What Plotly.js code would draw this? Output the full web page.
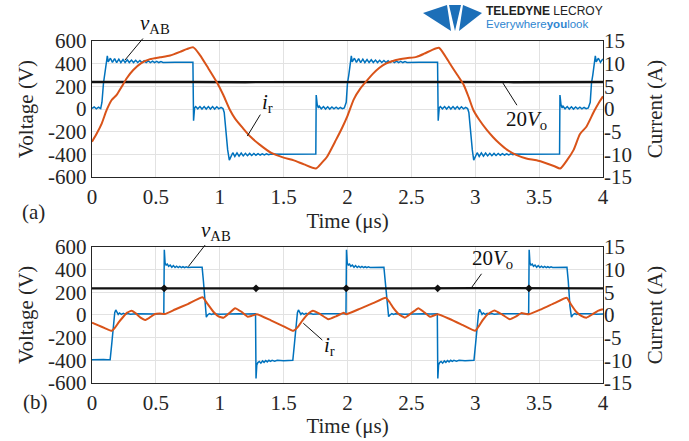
<!DOCTYPE html>
<html>
<head>
<meta charset="utf-8">
<script src="https://cdn.plot.ly/plotly-3.0.1.min.js"></script>
<style>html,body{margin:0;padding:0;background:#fff;}#chart{width:689px;height:441px;}</style>
</head>
<body>
<div id="chart"></div>
<script>
// ---------- (a) top panel ----------
// v_AB (V): [time µs, voltage]
const vabA = [
 [0,5],[0.017,18],[0.034,2],[0.051,16],[0.068,4],[0.078,60],[0.09,230],[0.1,300],[0.112,380],[0.12,468],
 [0.127,415],[0.144,448],[0.160,412],[0.177,445],[0.193,410],[0.210,440],[0.226,410],[0.243,437],[0.259,410],
 [0.276,435],[0.292,410],[0.309,432],[0.325,410],[0.342,430],[0.358,410],[0.375,428],[0.391,410],[0.408,426],
 [0.424,410],[0.441,424],[0.457,410],[0.474,422],[0.490,410],[0.507,420],[0.523,410],[0.540,418],[0.556,411],
 [0.60,414],[0.65,412],[0.70,413],[0.75,411],[0.79,412],[0.795,-103],[0.803,10],
 [0.812,22],[0.828,2],[0.845,22],[0.861,0],[0.878,22],[0.894,0],[0.911,22],[0.927,0],[0.944,22],[0.960,0],
 [0.977,20],[0.993,2],[1.010,15],[1.025,5],[1.035,-30],[1.05,-250],[1.062,-360],[1.075,-450],
 [1.085,-420],[1.102,-385],[1.118,-418],[1.135,-387],[1.151,-415],[1.168,-388],[1.184,-413],[1.201,-390],
 [1.217,-411],[1.234,-391],[1.250,-409],[1.267,-392],[1.283,-407],[1.300,-393],[1.316,-405],[1.333,-394],
 [1.349,-404],[1.366,-395],[1.382,-402],[1.40,-397],[1.50,-398],[1.60,-396],[1.70,-397],[1.752,-396],
 [1.755,124],[1.763,40],[1.772,10],[1.779,25],[1.795,2],[1.812,22],[1.828,0],[1.845,20],[1.861,0],[1.878,18],
 [1.894,2],[1.911,16],[1.927,2],[1.944,14],[1.960,4],[1.975,10],[1.99,60],[2.00,230],[2.01,300],[2.022,380],
 [2.03,468],[2.037,415],[2.054,448],[2.070,412],[2.087,445],[2.103,410],[2.120,440],[2.136,410],[2.153,437],
 [2.169,410],[2.186,435],[2.202,410],[2.219,432],[2.235,410],[2.252,430],[2.268,410],[2.285,428],[2.301,410],
 [2.318,426],[2.334,410],[2.351,424],[2.367,410],[2.384,422],[2.400,410],[2.417,420],[2.433,410],[2.450,418],
 [2.466,411],[2.51,414],[2.56,412],[2.61,413],[2.66,411],[2.705,412],[2.71,-103],[2.718,10],
 [2.727,22],[2.743,2],[2.760,22],[2.776,0],[2.793,22],[2.809,0],[2.826,22],[2.842,0],[2.859,22],[2.875,0],
 [2.892,20],[2.908,2],[2.925,15],[2.940,5],[2.950,-30],[2.965,-250],[2.977,-360],[2.988,-450],
 [2.998,-420],[3.015,-385],[3.031,-418],[3.048,-387],[3.064,-415],[3.081,-388],[3.097,-413],[3.114,-390],
 [3.130,-411],[3.147,-391],[3.163,-409],[3.180,-392],[3.196,-407],[3.213,-393],[3.229,-405],[3.246,-394],
 [3.262,-404],[3.279,-395],[3.295,-402],[3.31,-397],[3.41,-398],[3.51,-396],[3.61,-397],[3.66,-396],
 [3.663,124],[3.671,40],[3.68,10],[3.687,25],[3.703,2],[3.720,22],[3.736,0],[3.753,20],[3.769,0],[3.786,18],
 [3.802,2],[3.819,16],[3.835,2],[3.852,14],[3.868,4],[3.885,10],[3.90,60],[3.91,230],[3.92,300],[3.932,380],
 [3.94,470],[3.947,415],[3.964,448],[3.980,412],[3.997,440],[4.0,430]
];
// i_r (A)
const irA = [
 [0,-7.2],[0.037,-5.4],[0.076,-3.2],[0.115,-0.2],[0.154,2.0],[0.193,3.1],[0.232,4.9],[0.272,6.8],[0.323,8.6],
 [0.388,10.2],[0.454,11.0],[0.532,11.4],[0.611,11.8],[0.689,12.6],[0.741,13.2],[0.793,13.6],[0.845,11.9],
 [0.91,9.0],[0.975,6.0],[1.028,3.1],[1.08,-0.2],[1.12,-2.1],[1.184,-4.3],[1.237,-6.0],[1.315,-7.9],[1.40,-9.6],
 [1.50,-10.7],[1.58,-11.3],[1.66,-12.2],[1.753,-13.1],[1.80,-11.8],[1.84,-10.5],[1.91,-6.8],[1.96,-4.0],
 [2.0,-1.5],[2.05,2.2],[2.1,4.5],[2.15,6.2],[2.2,7.8],[2.25,9.1],[2.3,10.0],[2.38,10.8],[2.46,11.2],[2.54,11.5],
 [2.6,12.2],[2.66,13.0],[2.715,13.5],[2.76,11.9],[2.80,10.1],[2.86,7.5],[2.91,5.3],[2.95,2.5],[2.985,-0.2],
 [3.03,-2.3],[3.09,-4.6],[3.14,-6.2],[3.19,-7.6],[3.25,-9.0],[3.32,-10.1],[3.4,-10.9],[3.48,-11.3],[3.56,-12.0],
 [3.62,-12.6],[3.665,-13.1],[3.72,-11.2],[3.77,-9.0],[3.82,-5.5],[3.87,-3.9],[3.93,-0.5],[3.97,1.5],[4.0,2.8]
];
// 20Vo (V)
const voA = [[0,238],[0.3,236],[0.8,239],[1.2,237],[1.8,239],[2.3,237],[2.8,239],[3.3,237],[3.8,238],[4,238]];

// ---------- (b) bottom panel ----------
const vabB = [
 [0,-395],[0.03,-393],[0.06,-397],[0.09,-393],[0.12,-396],[0.142,-395],[0.155,-250],[0.168,-60],[0.178,20],
 [0.186,44],[0.195,25],[0.205,5],[0.215,18],[0.23,5],[0.245,14],[0.26,6],[0.28,12],[0.3,7],[0.35,10],[0.4,8],
 [0.45,10],[0.5,8],[0.562,10],[0.566,575],[0.572,460],[0.58,440],[0.59,448],[0.6,428],[0.612,440],[0.625,420],
 [0.637,435],[0.65,418],[0.662,430],[0.675,418],[0.687,428],[0.7,417],[0.712,425],[0.725,417],[0.737,424],
 [0.75,418],[0.78,420],[0.82,419],[0.862,420],[0.872,300],[0.885,80],[0.895,-20],[0.905,0],[0.92,12],[0.935,4],
 [0.95,10],[1.0,7],[1.05,10],[1.1,8],[1.15,10],[1.2,8],[1.28,10],[1.284,-560],[1.29,-440],[1.298,-420],
 [1.31,-410],[1.322,-425],[1.335,-405],[1.347,-418],[1.36,-402],[1.372,-414],[1.385,-400],[1.397,-410],
 [1.41,-400],[1.43,-407],[1.45,-400],[1.5,-403],[1.55,-400],[1.572,-400],[1.585,-250],[1.598,-60],[1.608,20],
 [1.616,44],[1.625,25],[1.635,5],[1.645,18],[1.66,5],[1.675,14],[1.69,6],[1.71,12],[1.73,7],[1.8,10],[1.9,8],
 [1.988,10],[1.992,575],[1.998,460],[2.006,440],[2.016,448],[2.026,428],[2.038,440],[2.051,420],[2.063,435],
 [2.076,418],[2.088,430],[2.101,418],[2.113,428],[2.126,417],[2.138,425],[2.151,417],[2.163,424],[2.176,418],
 [2.21,420],[2.25,419],[2.285,420],[2.295,300],[2.31,80],[2.322,-15],[2.332,0],[2.347,12],[2.36,4],[2.375,10],
 [2.45,7],[2.5,10],[2.55,8],[2.6,10],[2.65,8],[2.703,10],[2.707,-560],[2.713,-440],[2.721,-420],[2.733,-410],
 [2.745,-425],[2.758,-405],[2.77,-418],[2.783,-402],[2.795,-414],[2.808,-400],[2.82,-410],[2.833,-400],
 [2.853,-407],[2.873,-400],[2.92,-403],[2.96,-400],[2.99,-400],[3.003,-250],[3.016,-60],[3.026,20],[3.034,50],
 [3.043,25],[3.053,5],[3.063,18],[3.078,5],[3.093,14],[3.108,6],[3.128,12],[3.148,7],[3.2,10],[3.3,8],
 [3.418,10],[3.422,575],[3.428,460],[3.436,440],[3.446,448],[3.456,428],[3.468,440],[3.481,420],[3.493,435],
 [3.506,418],[3.518,430],[3.531,418],[3.543,428],[3.556,417],[3.568,425],[3.581,417],[3.593,424],[3.606,418],
 [3.64,420],[3.68,419],[3.718,420],[3.728,300],[3.741,80],[3.753,-20],[3.763,0],[3.778,12],[3.793,4],
 [3.808,10],[3.85,7],[3.9,10],[3.95,7],[4.0,9]
];
const irB = [
 [0,-1.7],[0.05,-2.3],[0.1,-2.9],[0.155,-3.5],[0.18,-2.8],[0.21,-1.6],[0.245,-0.4],[0.275,0.5],[0.31,0.9],
 [0.345,0.3],[0.38,-0.6],[0.415,-1.1],[0.45,-0.6],[0.49,0.15],[0.53,0.3],[0.57,0.2],[0.65,1.2],[0.75,2.4],
 [0.866,3.9],[0.9,2.6],[0.95,0.7],[0.99,-0.3],[1.03,-0.6],[1.075,0.4],[1.12,1.5],[1.17,0.7],[1.22,-0.4],
 [1.25,-0.2],[1.29,0.15],[1.4,-1.2],[1.5,-2.5],[1.576,-3.5],[1.61,-2.7],[1.64,-1.5],[1.69,0.2],[1.73,0.95],
 [1.78,0.3],[1.85,-0.95],[1.91,-0.3],[1.97,0.5],[1.99,0.15],[2.1,1.4],[2.2,2.6],[2.30,3.8],[2.33,2.8],
 [2.36,1.5],[2.4,0.2],[2.45,-0.6],[2.5,0.4],[2.555,1.5],[2.6,0.6],[2.646,-0.4],[2.706,0.15],[2.8,-0.9],
 [2.9,-2.2],[3.0,-3.5],[3.03,-2.4],[3.06,-1.1],[3.1,0.2],[3.15,1.0],[3.21,0.1],[3.27,-0.95],[3.32,-0.3],
 [3.36,0.4],[3.42,0.15],[3.52,1.3],[3.62,2.6],[3.716,3.8],[3.75,2.3],[3.79,0.7],[3.83,-0.2],[3.87,-0.6],
 [3.92,0.2],[3.96,0.9],[4.0,1.25]
];
const voB = [[0,235],[0.5,234],[1.0,236],[1.5,234],[2.0,236],[2.5,234],[3.0,236],[3.5,234],[4,235]];
const voMarkB_t = [0.565, 1.284, 1.99, 2.706, 3.42];
const voMarkB_v = [235, 235, 235, 235, 235];

// ticks
const timeTicks = [0, 0.5, 1, 1.5, 2, 2.5, 3, 3.5, 4];
const timeTickText = ['0', '0.5', '1', '1.5', '2', '2.5', '3', '3.5', '4'];
const voltTicks = [-600, -400, -200, 0, 200, 400, 600];
const voltTickText = ['-600', '-400', '-200', '0', '200', '400', '600'];
const currTicks = [-15, -10, -5, 0, 5, 10, 15];
const currTickText = ['-15', '-10', '-5', '0', '5', '10', '15'];

const BLUE = '#0072BD', ORANGE = '#D95319', BLACK = '#111111';
const col = (a, i) => a.map(p => p[i]);

const traces = [
  {x: col(vabA,0), y: col(vabA,1), xaxis:'x', yaxis:'y', mode:'lines', line:{color:BLUE, width:1.5}},
  {x: col(voA,0), y: col(voA,1), xaxis:'x', yaxis:'y', mode:'lines', line:{color:BLACK, width:2.4}},
  {x: col(irA,0), y: col(irA,1), xaxis:'x', yaxis:'y2', mode:'lines', line:{color:ORANGE, width:2, shape:'spline', smoothing:0.6}},
  {x: col(vabB,0), y: col(vabB,1), xaxis:'x2', yaxis:'y3', mode:'lines', line:{color:BLUE, width:1.5}},
  {x: col(voB,0), y: col(voB,1), xaxis:'x2', yaxis:'y3', mode:'lines', line:{color:BLACK, width:2.2}},
  {x: voMarkB_t, y: voMarkB_v, xaxis:'x2', yaxis:'y3', mode:'markers', marker:{color:BLACK, size:6, symbol:'diamond'}},
  {x: col(irB,0), y: col(irB,1), xaxis:'x2', yaxis:'y4', mode:'lines', line:{color:ORANGE, width:2, shape:'spline', smoothing:0.4}}
];

const F = 'Liberation Serif, DejaVu Serif, serif';
const TXT = '#262626';
const GRID = '#e2e2e2';
const LINE = '#262626';

function xax(anchor) {
  return {anchor: anchor, domain:[0,1], range:[0,4], tickvals: timeTicks, ticktext: timeTickText,
    showgrid:true, gridcolor:GRID, gridwidth:1, zeroline:false, showline:true, mirror:true,
    linecolor:LINE, linewidth:1.3, ticks:'', tickfont:{family:F, size:21, color:TXT},
    title:{text:'Time (μs)', font:{family:F, size:21, color:TXT}, standoff:0}};
}
function yleft(anchor, domain) {
  return {anchor: anchor, domain: domain, range:[-600,600], tickvals: voltTicks, ticktext: voltTickText,
    showgrid:true, gridcolor:GRID, gridwidth:1, zeroline:false, showline:true, mirror:true,
    linecolor:LINE, linewidth:1.3, ticks:'', tickfont:{family:F, size:21, color:TXT},
    title:{text:'Voltage (V)', font:{family:F, size:21, color:TXT}, standoff:8}};
}
function yright(anchor, over) {
  return {anchor: anchor, overlaying: over, side:'right', range:[-15,15], tickvals: currTicks, ticktext: currTickText,
    showgrid:false, zeroline:false, showline:false, ticks:'', tickfont:{family:F, size:21, color:TXT},
    title:{text:'Current (A)', font:{family:F, size:21, color:TXT}, standoff:16}};
}

const annFont = {family:F, size:21, color:'#111'};
function lab(xref, yref, x, y, text, ax, ay) {
  return {xref:xref, yref:yref, x:x, y:y, text:text, showarrow:true, arrowhead:0, arrowwidth:1,
    arrowcolor:'#111', ax:ax, ay:ay, font:annFont, standoff:0, startstandoff:0};
}

const layout = {
  width:689, height:441, margin:{l:92, r:86, t:41, b:58},
  paper_bgcolor:'#ffffff', plot_bgcolor:'#ffffff', showlegend:false,
  font:{family:F, size:21, color:TXT},
  xaxis: xax('y'),
  yaxis: yleft('x', [0.602, 1]),
  yaxis2: yright('x', 'y'),
  xaxis2: xax('y3'),
  yaxis3: yleft('x2', [0, 0.398]),
  yaxis4: yright('x2', 'y3'),
  annotations: [
    lab('x','y', 0.258, 432, '<i>v</i><sub>AB</sub>', 30, -36),
    lab('x','y', 1.216, -238, '<i>i</i><sub>r</sub>', 20, -33),
    lab('x','y', 3.21, 241, '20<i>V</i><sub>o</sub>', 24, 38),
    lab('x2','y3', 0.754, 426, '<i>v</i><sub>AB</sub>', 28, -36),
    lab('x2','y3', 2.967, 235, '20<i>V</i><sub>o</sub>', 21, -29),
    lab('x2','y3', 1.654, -73, '<i>i</i><sub>r</sub>', 26, 23),
    {xref:'paper', yref:'paper', x:-0.141, y:0.5, text:'(a)', showarrow:false, font:{family:F, size:21, color:TXT}},
    {xref:'paper', yref:'paper', x:-0.139, y:-0.096, text:'(b)', showarrow:false, font:{family:F, size:21, color:TXT}},
    {xref:'paper', yref:'paper', x:(484-92)/511, y:(383-11)/342, xanchor:'left', yanchor:'middle',
      text:'<b>TELEDYNE</b> LECROY', showarrow:false, font:{family:'Liberation Sans, Arial, sans-serif', size:12, color:'#222'}},
    {xref:'paper', yref:'paper', x:(484-92)/511, y:(383-24)/342, xanchor:'left', yanchor:'middle',
      text:'Everywhere<b>you</b>look', showarrow:false, font:{family:'Liberation Sans, Arial, sans-serif', size:11.5, color:'#2f86d0'}}
  ],
  shapes: [
    {type:'path', xref:'paper', yref:'paper', fillcolor:'#1c6fb8', line:{width:0},
     path:'M '+((423-92)/511)+','+((383-13)/342)+' L '+((447-92)/511)+','+((383-5)/342)+' L '+((451-92)/511)+','+((383-31)/342)+' Z'},
    {type:'path', xref:'paper', yref:'paper', fillcolor:'#1c6fb8', line:{width:0},
     path:'M '+((449-92)/511)+','+((383-5)/342)+' L '+((461-92)/511)+','+((383-5)/342)+' L '+((455-92)/511)+','+((383-31)/342)+' Z'},
    {type:'path', xref:'paper', yref:'paper', fillcolor:'#1c6fb8', line:{width:0},
     path:'M '+((463-92)/511)+','+((383-5)/342)+' L '+((482-92)/511)+','+((383-13)/342)+' L '+((459-92)/511)+','+((383-31)/342)+' Z'}
  ]
};

Plotly.newPlot('chart', traces, layout, {displayModeBar:false, staticPlot:true});
</script>
</body>
</html>
